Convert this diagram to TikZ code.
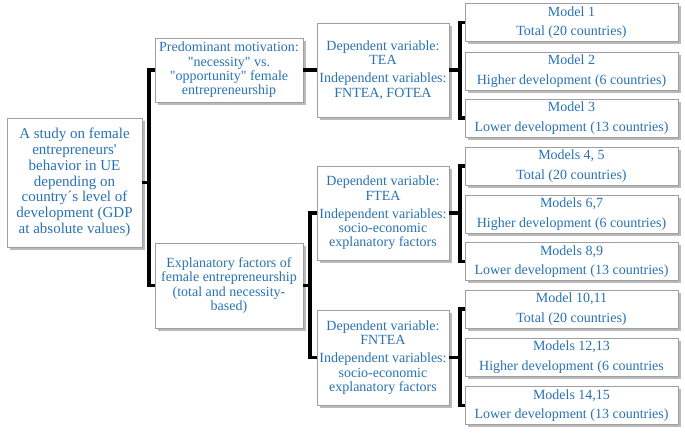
\documentclass[tikz,border=0pt]{standalone}
\usepackage{fontspec}
\setmainfont{Liberation Serif}[Ligatures=TeXOff]
\usetikzlibrary{shadows}
\definecolor{txtblue}{RGB}{40,114,180}

\begin{document}
\begin{tikzpicture}[x=1pt, y=-1pt,
  font=\fontsize{14}{14.3}\selectfont,
  box/.style={draw=gray!75, line width=0.7pt, fill=white, text=txtblue,
    align=center, inner sep=0pt,
    drop shadow={shadow xshift=2.5pt, shadow yshift=-2.5pt, fill=gray!55, opacity=1}},
  model/.style={box, minimum width=213pt, minimum height=38pt},
  link/.style={line width=3.6pt}]

\useasboundingbox (0,0) rectangle (685,432);

\node [box, minimum width=135pt, minimum height=129pt,
  font=\fontsize{15}{15.8}\selectfont] (study) at (74.5,182.5)
  {A study on female\\entrepreneurs'\\behavior in UE\\depending on\\country´s level of\\development (GDP\\at absolute values)};

\node [box, minimum width=148pt, minimum height=64pt] (motiv) at (229,70)
  {Predominant motivation:\\"necessity" vs.\\"opportunity" female\\entrepreneurship};
\node [box, minimum width=148pt, minimum height=85pt] (factors) at (229,285.5)
  {Explanatory factors of\\female entrepreneurship\\(total and necessity-\\based)};

\node [box, minimum width=132pt, minimum height=94pt] (tea) at (383,70)
  {Dependent variable:\\TEA\\[4pt]Independent variables:\\FNTEA, FOTEA};
\node [box, minimum width=132pt, minimum height=94pt] (ftea) at (383,213)
  {Dependent variable:\\FTEA\\[4pt]Independent variables:\\socio-economic\\explanatory factors};
\node [box, minimum width=132pt, minimum height=95pt] (fntea) at (383,357.5)
  {Dependent variable:\\FNTEA\\[4pt]Independent variables:\\socio-economic\\explanatory factors};

\node [model] (m1) at (571.5,22.5) {Model 1\\[5pt]Total (20 countries)};
\node [model] (m2) at (571.5,71) {Model 2\\[5pt]Higher development (6 countries)};
\node [model] (m3) at (571.5,118) {Model 3\\[5pt]Lower development (13 countries)};
\node [model] (m45) at (571.5,166) {Models 4, 5\\[5pt]Total (20 countries)};
\node [model] (m67) at (571.5,214) {Models 6,7\\[5pt]Higher development (6 countries)};
\node [model] (m89) at (571.5,261.5) {Models 8,9\\[5pt]Lower development (13 countries)};
\node [model] (m1011) at (571.5,309) {Model 10,11\\[5pt]Total (20 countries)};
\node [model] (m1213) at (571.5,357) {Models 12,13\\[5pt]Higher development (6 countries};
\node [model] (m1415) at (571.5,405.5) {Models 14,15\\[5pt]Lower development (13 countries)};

% forks
\coordinate (f0) at (149,182.5);
\coordinate (f1) at (310,285.5);
\coordinate (f2) at (460,70);
\coordinate (f3) at (460,213);
\coordinate (f4) at (460,357.5);

\draw [link] (study.east) -- (f0);
\draw [link] (motiv.west) -| (f0) |- (factors.west);
\draw [link] (motiv.east) -- (tea.west);

\draw [link] (factors.east) -- (f1);
\draw [link] (ftea.west) -| (f1) |- (fntea.west);

\draw [link] (tea.east) -- (f2);
\draw [link] (m1.west) -| (f2) |- (m3.west);
\draw [link] (ftea.east) -- (f3);
\draw [link] (m45.west) -| (f3) |- (m89.west);
\draw [link] (fntea.east) -- (f4);
\draw [link] (m1011.west) -| (f4) |- (m1415.west);

\end{tikzpicture}
\end{document}
